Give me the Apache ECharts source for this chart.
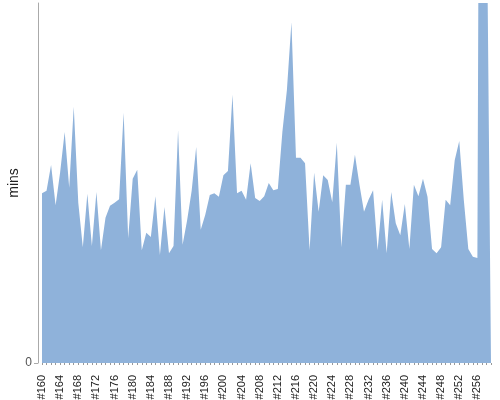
<!DOCTYPE html>
<html>
<head>
<meta charset="utf-8">
<script src="https://cdn.jsdelivr.net/npm/echarts@6/dist/echarts.min.js"></script>
<style>html,body{margin:0;padding:0;background:#fff}#c{width:500px;height:400px}</style>
</head>
<body>
<div id="c"></div>
<script>
// Categories #160 .. #259
var categories = [];
for (var n = 160; n <= 259; n++) categories.push('#' + n);

// minutes per build
var minsValues = [
  28.3, 28.7, 33.0, 26.3, 31.8, 38.5, 29.2, 42.7, 26.7, 19.3,
  28.2, 19.5, 28.5, 18.8, 24.2, 26.2, 26.7, 27.3, 41.7, 20.8,
  30.7, 32.2, 18.8, 21.7, 21.0, 27.8, 18.0, 26.0, 18.3, 19.5,
  38.8, 19.7, 23.8, 28.7, 36.0, 22.2, 24.7, 28.0, 28.3, 27.7,
  31.3, 32.0, 44.7, 28.3, 28.7, 27.2, 33.3, 27.5, 27.0, 27.8,
  30.0, 28.8, 29.0, 38.5, 45.5, 56.8, 34.2, 34.2, 33.3, 18.8,
  31.7, 25.2, 31.3, 30.5, 26.8, 36.7, 19.3, 29.7, 29.7, 34.7,
  29.7, 25.2, 27.2, 28.8, 18.8, 27.2, 18.3, 28.5, 23.3, 21.3,
  26.5, 19.0, 29.7, 27.8, 30.7, 27.7, 19.0, 18.3, 19.3, 27.2,
  26.3, 33.8, 37.0, 27.2, 19.0, 17.7, 17.5, 230, 82.5, 0
];

var yMax = 60;

var chart = echarts.init(document.getElementById('c'), null, {renderer: 'canvas'});
chart.setOption({
  animation: false,
  grid: {left: 42, right: 9, top: 3, bottom: 37, outerBoundsMode: 'none', containLabel: false},
  xAxis: {
    type: 'category',
    data: categories,
    boundaryGap: false,
    offset: 9,
    axisLine: {show: false},
    axisTick: {show: true, length: 2, interval: 0, lineStyle: {color: '#999'}},
    axisLabel: {
      interval: 3, rotate: 90, margin: 3,
      fontSize: 11, color: '#222', fontFamily: 'Liberation Sans'
    },
    splitLine: {show: false}
  },
  yAxis: {
    type: 'value',
    min: 0, max: yMax, interval: yMax,
    offset: 4,
    name: 'mins',
    nameLocation: 'middle',
    nameRotate: 90,
    nameGap: 17,
    nameMoveOverlap: false,
    nameTextStyle: {fontSize: 14, color: '#222', fontFamily: 'Liberation Sans'},
    axisLine: {show: true, lineStyle: {color: '#aaa'}},
    axisTick: {show: true, length: 4, lineStyle: {color: '#aaa'}},
    axisLabel: {showMaxLabel: false, fontSize: 12, color: '#555', margin: 6, fontFamily: 'Liberation Sans'},
    splitLine: {show: false}
  },
  series: [{
    type: 'line',
    data: minsValues,
    showSymbol: false,
    symbol: 'none',
    clip: true,
    lineStyle: {width: 0, color: '#8fb2da'},
    areaStyle: {color: '#8fb2da', opacity: 1}
  }]
});
</script>
</body>
</html>
